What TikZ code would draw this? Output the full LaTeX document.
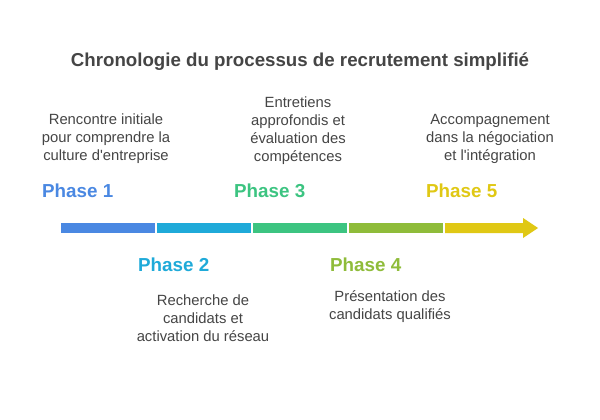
\documentclass[tikz,border=0pt]{standalone}
\usepackage{fontspec}
\setmainfont{Liberation Sans}[Ligatures=TeXOff]
\definecolor{txt}{HTML}{454545}
\definecolor{c1}{HTML}{4A88E2}
\definecolor{c2}{HTML}{1FAAD9}
\definecolor{c3}{HTML}{3CC481}
\definecolor{c4}{HTML}{8FBC3A}
\definecolor{c5}{HTML}{E0C814}
\begin{document}
\begin{tikzpicture}[x=1pt,y=-1pt,
  phase/.style={anchor=west,font=\fontsize{18.8}{20}\selectfont\bfseries,inner sep=0pt},
  desc/.style={align=center,text=txt,font=\fontsize{14.8}{18}\selectfont,inner sep=0pt}]
\useasboundingbox (0,0) rectangle (600,420);
\fill[white] (0,0) rectangle (600,420);
\node[text=txt,font=\fontsize{18.7}{20}\selectfont\bfseries] (title) at (300,62) {Chronologie du processus de recrutement simplifié};
\fill[c1] (61,223) rectangle (155,233);
\fill[c2] (157,223) rectangle (251,233);
\fill[c3] (253,223) rectangle (347,233);
\fill[c4] (349,223) rectangle (443,233);
\fill[c5] (445,223) -- (523,223) -- (523,218) -- (538,228) -- (523,238) -- (523,233) -- (445,233) -- cycle;
\node[phase,text=c1] (p1) at (42,191) {Phase 1};
\node[phase,text=c2] (p2) at (138,265) {Phase 2};
\node[phase,text=c3] (p3) at (234,191) {Phase 3};
\node[phase,text=c4] (p4) at (330,265) {Phase 4};
\node[phase,text=c5] (p5) at (426,191) {Phase 5};
\node[desc] (d1) at (106,139) {Rencontre initiale\\pour comprendre la\\culture d'entreprise};
\node[desc] (d3) at (298,131) {Entretiens\\approfondis et\\évaluation des\\compétences};
\node[desc] (d5) at (490,139) {Accompagnement\\dans la négociation\\et l'intégration};
\node[desc] (d2) at (203,318) {Recherche de\\candidats et\\activation du réseau};
\node[desc] (d4) at (390,307) {Présentation des\\candidats qualifiés};
\end{tikzpicture}
\end{document}
